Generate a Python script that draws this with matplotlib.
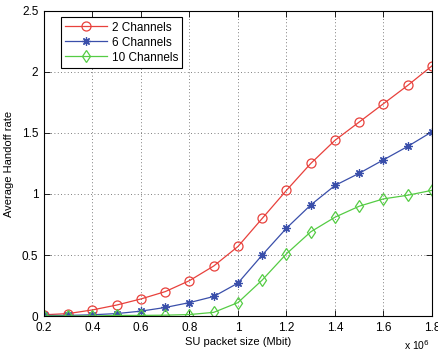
import matplotlib
matplotlib.use('Agg')
from matplotlib import pyplot as plt
import numpy as np

# datos (tamano de paquete en unidades de 1e6 bit)
packet_size = [0.2, 0.3, 0.4, 0.5, 0.6, 0.7, 0.8, 0.9, 1.0,
               1.1, 1.2, 1.3, 1.4, 1.5, 1.6, 1.7, 1.8]
ch2 = [0.01, 0.02, 0.05, 0.09, 0.14, 0.20, 0.29, 0.41, 0.57,
       0.80, 1.03, 1.25, 1.44, 1.59, 1.74, 1.89, 2.05]
ch6 = [0.005, 0.005, 0.01, 0.02, 0.04, 0.07, 0.11, 0.16, 0.27,
       0.50, 0.72, 0.91, 1.07, 1.17, 1.28, 1.39, 1.51]
ch10 = [0.0, 0.0, 0.0, 0.005, 0.005, 0.007, 0.012, 0.03, 0.11,
        0.295, 0.51, 0.69, 0.81, 0.90, 0.96, 0.99, 1.03]
labels = ['2 Channels', '6 Channels', '10 Channels']
xticks = [0.2, 0.4, 0.6, 0.8, 1, 1.2, 1.4, 1.6, 1.8]
xtick_labels = ['0.2', '0.4', '0.6', '0.8', '1', '1.2', '1.4', '1.6', '1.8']
yticks = [0, 0.5, 1, 1.5, 2, 2.5]
ytick_labels = ['0', '0.5', '1', '1.5', '2', '2.5']

plt.rcParams['font.family'] = ['Liberation Sans', 'DejaVu Sans']
plt.rcParams['font.size'] = 8

fig = plt.figure(figsize=(4.39, 3.54), dpi=100)
ax = fig.add_axes([0.1002, 0.1073, 0.8838, 0.8617])

ax.plot(packet_size, ch2, '-o', color='#e8413c', lw=0.9, ms=6.5,
        mfc='none', mew=0.9, label=labels[0])
ax.plot(packet_size, ch6, '-', marker=(8, 2, 0), color='#3a4faa', lw=0.9,
        ms=6, mfc='none', mew=0.9, label=labels[1])
ax.plot(packet_size, ch10, '-d', color='#55cc44', lw=0.9, ms=6.5,
        mfc='none', mew=0.9, label=labels[2])

ax.set_xlim(0.2, 1.8)
ax.set_ylim(0, 2.5)
ax.set_xticks(xticks)
ax.set_xticklabels(xtick_labels)
ax.set_yticks(yticks)
ax.set_yticklabels(ytick_labels)
ax.tick_params(direction='in', length=4, width=0.6, top=True, right=True,
               labelsize=8.5)
ax.tick_params(axis='x', pad=4.5)
ax.tick_params(axis='y', pad=4)
for s in ax.spines.values():
    s.set_linewidth(0.8)
ax.grid(True, linestyle=(0, (1, 3)), color='#555555', lw=0.6)

ax.set_xlabel('SU packet size (Mbit)', labelpad=2)
ax.set_ylabel('Average Handoff rate', labelpad=6)
ax.text(0.995, -0.072, r'x 10$^6$', transform=ax.transAxes,
        ha='right', va='top', fontsize=7.5)

leg = ax.legend(loc='upper left', bbox_to_anchor=(0.028, 0.998),
                fancybox=False, edgecolor='black', framealpha=1,
                handlelength=3.6, borderpad=0.35, labelspacing=0.25,
                handletextpad=0.35, fontsize=8.5)
leg.get_frame().set_linewidth(0.8)

fig.savefig('out.png', dpi=100)
